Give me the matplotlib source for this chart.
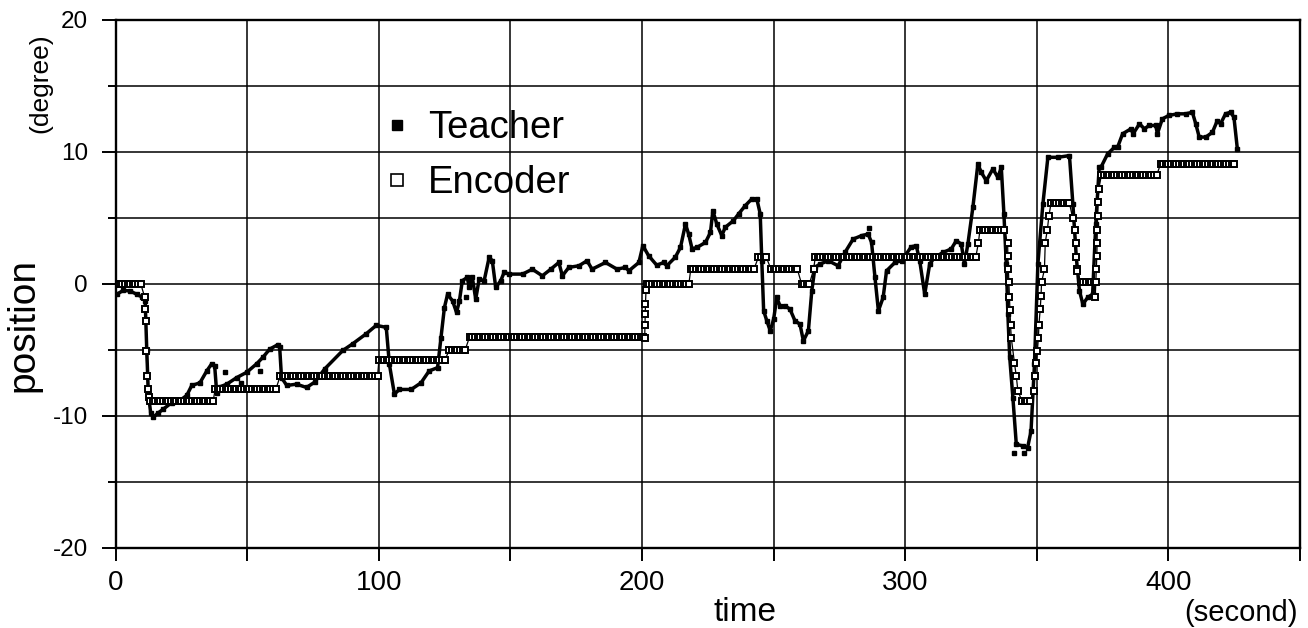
import numpy as np
import matplotlib
matplotlib.use('Agg')
import matplotlib.pyplot as plt
from matplotlib.lines import Line2D
from matplotlib.ticker import FixedLocator

plt.rcParams['font.family'] = ['Liberation Sans', 'DejaVu Sans']
plt.rcParams['axes.unicode_minus'] = False

# ---------------- data ----------------
teacher_t = [0.4, 2.9, 5.5, 8.0, 10.0, 11.2, 11.8, 12.4, 13.3, 14.3, 16.0, 18.0, 21.3, 24.0,
             27.0, 28.9, 32.0, 34.6, 36.5, 37.6, 38.4, 39.7, 42.2, 46.0, 49.8, 53.6, 56.0,
             58.5, 61.7, 62.3, 63.0, 65.0, 68.7, 72.5, 75.6, 79.4, 86.3, 90.0, 95.1, 99.0,
             102.8, 104.0, 105.9, 107.8, 112.3, 116.0, 119.1, 122.3, 123.6, 124.9, 126.1,
             128.0, 129.5, 130.6, 131.7, 133.6, 134.3, 135.5, 136.8, 138.1, 140.0, 141.9,
             143.1, 144.4, 146.3, 147.6, 149.5, 154.6, 158.3, 162.1, 165.3, 168.4, 169.7,
             172.2, 176.0, 179.1, 181.0, 186.1, 190.5, 193.7, 195.0, 198.8, 200.3, 202.5,
             205.6, 208.2, 209.4, 212.6, 214.6, 216.5, 217.7, 219.0, 220.9, 224.1, 226.0,
             226.9, 228.4, 230.3, 231.6, 234.7, 236.7, 239.2, 241.7, 243.6, 244.9, 245.5,
             246.2, 247.4, 248.7, 250.0, 251.2, 252.4, 254.3, 256.2, 258.1, 260.0, 261.3,
             263.2, 264.5, 265.7, 267.7, 270.8, 274.5, 277.1, 280.2, 283.4, 285.9, 287.2,
             288.5, 289.8, 291.6, 292.9, 296.1, 298.6, 302.3, 304.2, 305.5, 307.4, 309.3,
             311.2, 314.4, 317.5, 319.4, 321.3, 322.5, 323.8, 325.7, 327.6, 328.9, 330.8,
             333.3, 335.2, 336.5, 337.5, 338.4, 339.0, 339.7, 340.9, 342.2, 344.6, 346.5,
             347.8, 349.1, 350.4, 352.3, 354.2, 358.0, 362.4, 363.7, 365.0, 366.2, 367.5,
             369.3, 371.2, 372.4, 373.7, 374.4, 376.9, 379.5, 380.7, 382.6, 385.8, 386.6,
             389.0, 390.9, 392.7, 395.2, 395.8, 397.7, 400.2, 403.4, 406.6, 409.1, 410.4,
             411.7, 414.2, 416.7, 418.6, 419.8, 421.7, 423.6, 424.9, 426.2]
teacher_y = [-0.8, -0.5, -0.55, -0.8, -1.0, -1.3, -5.0, -8.3, -9.8, -10.1, -9.8, -9.5, -9.0, -8.9,
             -8.45, -7.7, -7.5, -6.6, -6.05, -6.2, -8.3, -7.8, -7.6, -7.1, -6.7, -6.05, -5.55,
             -4.95, -4.6, -4.8, -7.1, -7.7, -7.6, -7.85, -7.45, -6.45, -5.05, -4.55, -3.8, -3.15,
             -3.3, -6.1, -8.35, -8.0, -8.0, -7.5, -6.6, -6.35, -4.07, -1.8, -0.8,
             -1.3, -2.17, -1.3, 0.23, 0.48, -0.28, 0.48, -1.17, 0.35, 0.23, 2.0,
             1.74, -0.28, 0.23, 0.86, 0.73, 0.73, 1.1, 0.6, 1.1, 1.61, 0.6,
             1.24, 1.36, 1.74, 1.1, 1.61, 1.1, 1.24, 0.98, 1.61, 2.88, 2.12,
             1.4, 1.61, 1.36, 2.0, 2.75, 4.52, 3.76, 2.64, 2.75, 3.13, 3.89,
             5.53, 4.52, 3.64, 4.27, 4.77, 5.29, 5.91, 6.42, 6.42, 5.29, 1.74,
             -2.05, -2.8, -3.56, -2.68, -1.04, -1.67, -1.67, -1.92, -2.8, -3.06, -4.32,
             -3.56, -0.53, 1.24, 1.5, 1.74, 1.36, 2.37, 3.38, 3.64, 3.76, 3.13,
             0.48, -2.05, -1.04, 0.98, 1.61, 1.74, 2.8, 2.88, 1.74, -0.79, 1.5,
             2.0, 2.37, 2.64, 3.26, 3.0, 1.5, 3.0, 5.78, 9.06, 8.43, 7.8,
             8.69, 8.05, 8.81, 5.27, 1.5, -2.3, -5.58, -8.61, -12.15, -12.27, -12.4,
             -11.14, -6.1, 1.5, 6.03, 9.57, 9.57, 9.7, 6.03, 2.0, -0.53, -1.55,
             -1.04, -0.79, 4.52, 8.81, 8.83, 9.83, 10.33, 10.34, 11.35, 11.73, 11.35,
             12.1, 11.73, 11.98, 11.98, 11.35, 12.48, 12.74, 12.86, 12.86, 12.98, 12.1,
             11.1, 11.1, 11.46, 12.35, 12.1, 12.86, 12.98, 12.6, 10.2]

teacher_dot_t = [41.4, 47.8, 54.7, 133.0, 286.3, 341.5, 345.0]
teacher_dot_y = [-6.7, -7.5, -6.6, -1.04, 4.2, -12.8, -12.8]

enc_hold_t0 = [0.5, 13.0, 37.8, 62.5, 100.0, 126.8, 134.5, 201.8, 218.5, 244.2, 249.0,
               260.6, 265.8, 328.4, 344.4, 355.4, 366.7, 374.5, 397.0]
enc_hold_t1 = [10.0, 37.0, 61.7, 99.5, 125.5, 133.6, 200.7, 217.8, 243.2, 247.6, 259.5,
               264.5, 327.2, 337.8, 347.6, 363.1, 371.9, 395.5, 425.6]
enc_hold_y = [0.0, -8.9, -8.0, -7.0, -5.8, -5.0, -4.0, 0.0, 1.1, 2.0, 1.1,
              0.0, 2.0, 4.1, -8.9, 6.1, 0.1, 8.2, 9.05]

enc_trans_t = [11.0, 11.2, 11.4, 11.6, 11.9, 12.2, 12.5,
               201.0, 201.1, 201.2, 201.3, 201.5,
               265.2, 327.8,
               338.9, 339.0, 339.2, 339.4, 339.6, 339.8, 340.0, 340.3, 341.5, 342.2, 342.8,
               348.8, 349.2, 349.7, 350.2, 350.6, 350.8, 351.3, 351.6, 351.8, 352.9, 353.2,
               354.0, 354.6,
               363.6, 364.5, 364.9, 365.0, 365.1, 365.3,
               372.2, 372.4, 372.6, 372.8, 372.9, 373.0, 373.1, 373.2, 373.6]
enc_trans_y = [-1.0, -1.9, -2.8, -5.1, -7.0, -8.0, -8.6,
               -4.1, -3.1, -2.3, -1.5, -0.5,
               1.1, 3.1,
               3.1, 2.1, 1.1, 0.1, -1.0, -2.0, -3.1, -4.1, -6.0, -7.0, -8.1,
               -8.1, -7.0, -6.0, -5.1, -4.1, -3.1, -1.9, -0.9, 0.1, 1.1, 3.1,
               4.1, 5.15,
               5.0, 4.1, 3.1, 2.0, 1.1, 1.0,
               -1.0, 0.1, 1.1, 2.1, 3.1, 4.1, 5.15, 6.2, 7.2]

x_ticks = [0, 100, 200, 300, 400]
x_minor = [50, 150, 250, 350, 450]
y_ticks = [-20, -10, 0, 10, 20]
y_minor = [-15, -5, 5, 15]

# ---------------- figure ----------------
W, H = 1308, 628
fig = plt.figure(figsize=(W / 100, H / 100), dpi=100)
ax_left, ax_right, ax_top, ax_bot = 115.7, 1300.0, 19.5, 548.0
ax = fig.add_axes([ax_left / W, 1 - ax_bot / H, (ax_right - ax_left) / W, (ax_bot - ax_top) / H])

# encoder sequence: holds sampled at 1 s plus transition samples
pts_t, pts_y = [], []
for t0, t1, yv in zip(enc_hold_t0, enc_hold_t1, enc_hold_y):
    ts = np.arange(t0, t1 + 1e-6, 1.0)
    pts_t.extend(ts)
    pts_y.extend([yv] * len(ts))
pts_t.extend(enc_trans_t)
pts_y.extend(enc_trans_y)
order = np.argsort(np.asarray(pts_t), kind='stable')
enc_t = np.asarray(pts_t)[order]
enc_y = np.asarray(pts_y)[order]

ax.plot(teacher_t, teacher_y, color='black', lw=2.5, marker='s', ms=2.8,
        solid_joinstyle='round', zorder=3)
ax.plot(teacher_dot_t, teacher_dot_y, ls='none', marker='s', ms=2.8, color='black', zorder=3)
ax.plot(enc_t, enc_y, color='black', lw=0.9, marker='s', ms=5.0, mfc='white',
        mec='black', mew=1.4, zorder=4)

ax.set_xlim(0, 450)
ax.set_ylim(-20, 20)
ax.xaxis.set_major_locator(FixedLocator(x_ticks))
ax.xaxis.set_minor_locator(FixedLocator(x_minor))
ax.yaxis.set_major_locator(FixedLocator(y_ticks))
ax.yaxis.set_minor_locator(FixedLocator(y_minor))
ax.set_xticklabels([str(v) for v in x_ticks])
ax.set_yticklabels([str(v) for v in y_ticks])
ax.grid(True, which='both', color='black', lw=1.1)
ax.set_axisbelow(True)
ax.tick_params(axis='x', which='both', direction='out', length=9, width=1.4,
               labelsize=20, pad=7)
ax.tick_params(axis='y', which='major', direction='out', length=10, width=1.4,
               labelsize=17.5, pad=10)
ax.tick_params(axis='y', which='minor', direction='out', length=6, width=1.4)
for s in ax.spines.values():
    s.set_linewidth(1.7)

# legend
handles = [Line2D([], [], ls='none', marker='s', ms=6.5, color='black'),
           Line2D([], [], ls='none', marker='s', ms=8, mfc='white', mec='black', mew=1.2)]
ax.legend(handles, ['Teacher', 'Encoder'], loc='upper left', frameon=False,
          bbox_to_anchor=(385.5 / W, 1 - 110 / H), bbox_transform=fig.transFigure,
          fontsize=27.5, handlelength=0.6, handletextpad=0.51, labelspacing=0.5,
          borderpad=0, borderaxespad=0)

# axis labels
fig.text(23.3 / W, 1 - 325 / H, 'position', rotation=90, ha='center', va='center', fontsize=28)
fig.text(40.5 / W, 1 - 83 / H, '(degree)', rotation=90, ha='center', va='center', fontsize=19)
fig.text(745 / W, 1 - 621 / H, 'time', ha='center', va='baseline', fontsize=24)
fig.text(1298 / W, 1 - 621 / H, '(second)', ha='right', va='baseline', fontsize=21)

fig.savefig('out.png', dpi=100)
